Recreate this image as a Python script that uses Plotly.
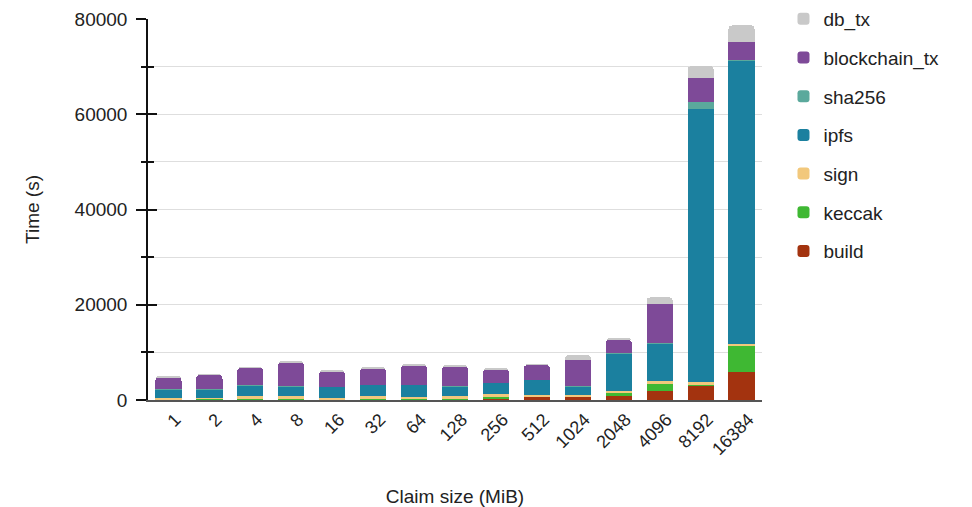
import plotly.graph_objects as go

categories = ["1", "2", "4", "8", "16", "32", "64", "128", "256", "512",
              "1024", "2048", "4096", "8192", "16384"]

build = [50, 50, 80, 150, 80, 100, 150, 120, 300, 650, 650, 900, 1900, 2950, 5950]
keccak = [50, 200, 50, 50, 50, 50, 100, 50, 400, 80, 100, 630, 1400, 100, 5400]
sign = [400, 150, 650, 600, 350, 650, 450, 600, 500, 420, 400, 350, 700, 700, 350]
ipfs = [1750, 1900, 2300, 2050, 2250, 2400, 2450, 2150, 2400, 3100, 1750, 7900, 7900, 57400, 59500]
sha256 = [50, 50, 50, 50, 50, 50, 50, 50, 50, 50, 50, 50, 50, 1400, 100]
blockchain_tx = [2500, 2950, 3650, 5000, 3250, 3400, 4050, 4070, 2770, 3050, 5400, 2800, 8200, 5100, 3930]
db_tx = [150, 150, 150, 200, 100, 150, 200, 150, 100, 200, 1050, 200, 1400, 2450, 3430]

series = [
    ("build", build, "#a3330f"),
    ("keccak", keccak, "#3fb833"),
    ("sign", sign, "#f2c87c"),
    ("ipfs", ipfs, "#1b809f"),
    ("sha256", sha256, "#5ba99c"),
    ("blockchain_tx", blockchain_tx, "#7e4a98"),
    ("db_tx", db_tx, "#c9c9c9"),
]

FONT = "Liberation Sans, Arial, sans-serif"

fig = go.Figure()
n = len(series)
for i, (name, vals, color) in enumerate(series):
    fig.add_trace(go.Bar(
        x=categories, y=vals, name=name, legendgroup=name, legendrank=n - i,
        marker=dict(color=color, line=dict(width=0)),
    ))

# transparent helper trace on an overlaying axis to draw the inside half of the ticks
fig.add_trace(go.Bar(x=categories, y=[0] * len(categories), yaxis="y2",
                     showlegend=False, hoverinfo="skip", marker=dict(color="rgba(0,0,0,0)")))

fig.update_layout(
    barmode="stack",
    bargap=0.36,
    barcornerradius=4,
    width=972, height=507,
    margin=dict(l=148, r=210, t=19, b=107, autoexpand=False),
    plot_bgcolor="white", paper_bgcolor="white",
    font=dict(family=FONT, size=19, color="#222"),
    legend=dict(
        x=1.035, y=1.05, xanchor="left", yanchor="top",
        traceorder="grouped", tracegroupgap=11, maxheight=450,
        font=dict(family=FONT, size=19, color="#222"),
        bgcolor="rgba(0,0,0,0)",
    ),
    xaxis=dict(
        title=dict(text="Claim size (MiB)", font=dict(size=19), standoff=40),
        tickangle=-45, tickfont=dict(size=18), ticklabelshift=7,
        showline=True, linecolor="#555", linewidth=2,
        ticks="", showgrid=False,
    ),
    yaxis=dict(
        title=dict(text="Time (s)", font=dict(size=19), standoff=30),
        range=[0, 80000], dtick=20000, tickformat="d",
        showline=True, linecolor="#111", linewidth=1.5,
        ticks="outside", ticklen=10, tickwidth=1.5, tickcolor="#111",
        ticklabelstandoff=5,
        showgrid=True, gridcolor="#dedede", gridwidth=1,
        zeroline=False,
        minor=dict(dtick=10000, ticks="outside", ticklen=5, tickwidth=1.5,
                   tickcolor="#111", showgrid=True, gridcolor="#dedede"),
        tickfont=dict(size=19),
    ),
    yaxis2=dict(
        overlaying="y", side="left", range=[0, 80000], dtick=20000,
        showticklabels=False, showgrid=False, zeroline=False, showline=False,
        ticks="inside", ticklen=9, tickwidth=1.5, tickcolor="#111",
        minor=dict(dtick=10000, ticks="inside", ticklen=6, tickwidth=1.5, tickcolor="#111"),
    ),
)

# remove the browser's default 8px body margin so the figure fills the window exactly
fig.write_html("out.html",
               config={"displayModeBar": False},
               post_script="document.body.style.margin='0px';document.body.style.overflow='hidden';")
